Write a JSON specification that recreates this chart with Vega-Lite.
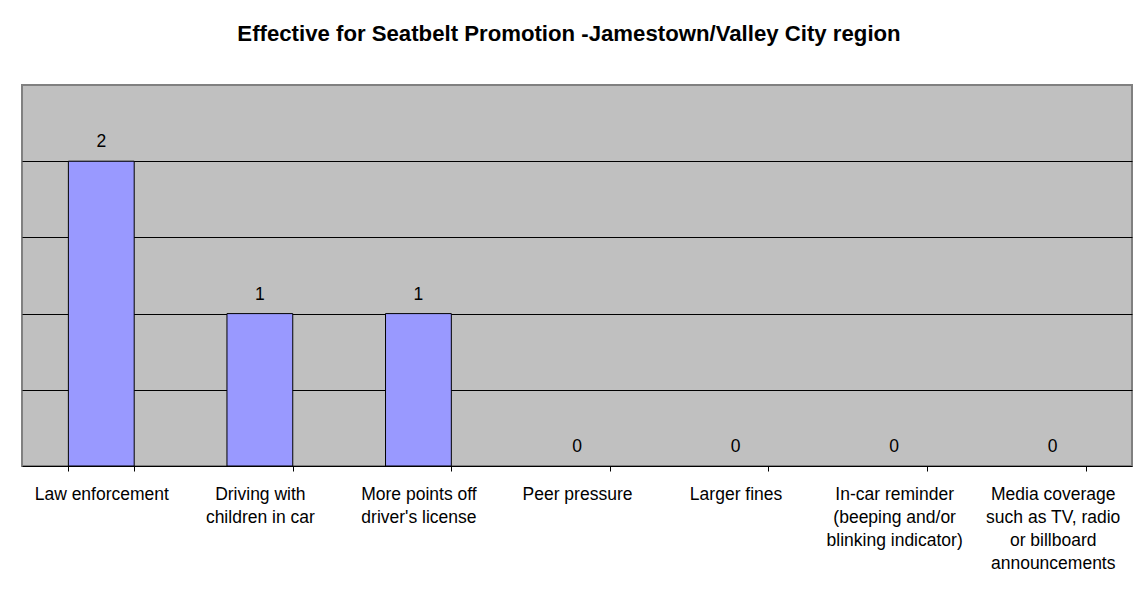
{
  "$schema": "https://vega.github.io/schema/vega-lite/v6.json",
  "autosize": {"type": "none"},
  "width": 1110,
  "height": 381,
  "padding": {"left": 22, "top": 85, "right": 1, "bottom": 127},
  "background": "white",
  "title": {
    "text": "Effective for Seatbelt Promotion -Jamestown/Valley City region",
    "font": "Liberation Sans",
    "fontSize": 22.2,
    "fontWeight": "bold",
    "color": "black",
    "baseline": "alphabetic",
    "offset": 22,
    "dx": -8,
    "anchor": "middle"
  },
  "data": {
    "values": [
      {"factor": "Law enforcement", "count": 2},
      {"factor": "Driving with children in car", "count": 1},
      {"factor": "More points off driver's license", "count": 1},
      {"factor": "Peer pressure", "count": 0},
      {"factor": "Larger fines", "count": 0},
      {"factor": "In-car reminder (beeping and/or blinking indicator)", "count": 0},
      {"factor": "Media coverage such as TV, radio or billboard announcements", "count": 0}
    ]
  },
  "encoding": {
    "x": {
      "field": "factor",
      "type": "nominal",
      "sort": null,
      "scale": {"paddingInner": 0.585, "paddingOuter": 0.2925},
      "axis": {
        "title": null,
        "labelAngle": 0,
        "labelFont": "Liberation Sans",
        "labelFontSize": 17.5,
        "labelColor": "black",
        "labelLineHeight": 23,
        "labelPadding": 14,
        "labelLimit": 200,
        "tickBand": "extent",
        "tickSize": 5,
        "tickColor": "black",
        "domainColor": "black",
        "grid": false,
        "labelExpr": "datum.value == 'Driving with children in car' ? ['Driving with', 'children in car'] : datum.value == \"More points off driver's license\" ? ['More points off', \"driver's license\"] : datum.value == 'In-car reminder (beeping and/or blinking indicator)' ? ['In-car reminder', '(beeping and/or', 'blinking indicator)'] : datum.value == 'Media coverage such as TV, radio or billboard announcements' ? ['Media coverage', 'such as TV, radio', 'or billboard', 'announcements'] : datum.value"
      }
    },
    "y": {
      "field": "count",
      "type": "quantitative",
      "scale": {"domain": [0, 2.5], "nice": false},
      "axis": {
        "title": null,
        "labels": false,
        "ticks": false,
        "domain": false,
        "grid": true,
        "gridColor": "black",
        "gridOpacity": 1,
        "values": [0.5, 1, 1.5, 2]
      }
    }
  },
  "layer": [
    {
      "transform": [{"filter": "datum.count > 0"}],
      "mark": {"type": "bar", "color": "#9999FF", "stroke": "black", "strokeWidth": 1}
    },
    {
      "mark": {"type": "text", "baseline": "alphabetic", "dy": -14, "font": "Liberation Sans", "fontSize": 17.5, "color": "black"},
      "encoding": {"text": {"field": "count", "type": "quantitative"}}
    }
  ],
  "config": {
    "view": {"fill": "#C0C0C0", "stroke": "#808080", "strokeWidth": 2}
  }
}
